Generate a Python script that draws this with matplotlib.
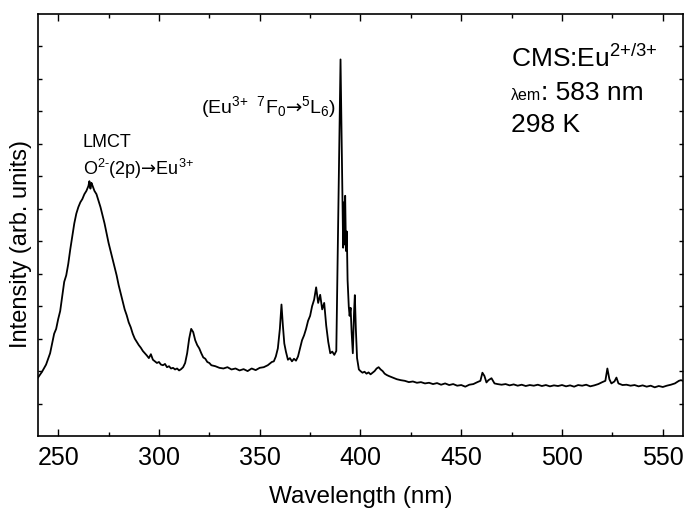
import matplotlib
matplotlib.use("Agg")
import matplotlib.pyplot as plt

plt.rcParams['font.family'] = ['Liberation Sans', 'DejaVu Sans']
plt.rcParams['mathtext.fontset'] = 'custom'
plt.rcParams['mathtext.rm'] = 'Liberation Sans'
plt.rcParams['mathtext.it'] = 'Liberation Sans:italic'
plt.rcParams['mathtext.bf'] = 'Liberation Sans:bold'
plt.rcParams['mathtext.sf'] = 'DejaVu Sans'

# excitation spectrum (wavelength nm, intensity arb.)
wavelength = [240, 242, 244, 246, 248, 249, 250, 251, 252, 253, 254, 255, 256, 257, 258, 259,
              260, 261, 262, 263, 264, 265, 265.5, 266, 266.5, 267, 268, 269, 270, 271, 272, 273,
              274, 275, 276, 277, 278, 279, 280, 281, 282, 283, 284, 285, 286, 287, 288, 289,
              290, 291, 292, 293, 294, 295, 296, 297, 298, 299, 300, 301, 302, 303, 304, 305,
              306, 307, 308, 309, 310, 311, 312, 313, 314, 315, 316, 317, 318, 319, 320, 321,
              322, 323, 324, 325, 326, 328, 330, 332, 334, 336, 338, 340, 342, 344, 346, 348,
              350, 352, 354, 356, 357, 358, 359, 360, 360.8, 361.5, 362.2, 363, 364, 365, 366, 367,
              368, 369, 370, 371, 372, 373, 374, 375, 376, 377, 378, 379, 380, 381, 382, 383,
              384, 385, 386, 387, 388, 390.1, 391.4, 391.8, 392.1, 392.4, 392.8, 393.2, 393.6, 394.2,
              394.6, 395.1, 395.6, 396.2, 396.8, 397.2, 397.7, 398.3, 399.2,
              400, 401, 402, 403, 404, 405, 406, 407, 408, 409, 410, 411, 412, 413, 414, 416,
              418, 420, 422, 424, 426, 428, 430, 432, 434, 436, 438, 440, 442, 444, 446, 448,
              450, 452, 454, 456, 458, 459.5, 460.5, 461.5, 462.5, 463.5, 465, 466.5, 468, 470, 472, 474,
              476, 478, 480, 482, 484, 486, 488, 490, 492, 494, 496, 498, 500, 502, 504, 506,
              508, 510, 512, 514, 516, 518, 520, 521.5, 522.5, 523.5, 524.5, 526, 527, 528, 530, 532,
              534, 536, 538, 540, 542, 544, 546, 548, 550, 552, 554, 556, 558, 559, 560]
intensity = [1.80, 1.98, 2.20, 2.55, 3.15, 3.30, 3.60, 3.85, 4.30, 4.75, 4.95, 5.30, 5.75, 6.15, 6.55, 6.85,
             7.05, 7.20, 7.30, 7.45, 7.55, 7.70, 7.85, 7.62, 7.80, 7.72, 7.55, 7.45, 7.25, 7.05, 6.80, 6.55,
             6.25, 5.95, 5.70, 5.45, 5.20, 4.95, 4.65, 4.40, 4.15, 3.90, 3.72, 3.50, 3.35, 3.15, 3.00, 2.90,
             2.80, 2.72, 2.62, 2.55, 2.48, 2.40, 2.52, 2.35, 2.30, 2.25, 2.28, 2.20, 2.18, 2.22, 2.12, 2.15,
             2.08, 2.10, 2.05, 2.08, 2.02, 2.06, 2.12, 2.25, 2.55, 3.00, 3.30, 3.20, 2.95, 2.80, 2.70, 2.55,
             2.42, 2.38, 2.28, 2.25, 2.18, 2.15, 2.10, 2.08, 2.12, 2.05, 2.08, 2.02, 2.06, 2.00, 2.08, 2.03,
             2.10, 2.12, 2.18, 2.28, 2.30, 2.45, 2.70, 3.30, 4.05, 3.40, 2.85, 2.60, 2.35, 2.40, 2.30, 2.38,
             2.32, 2.45, 2.70, 2.95, 3.10, 3.30, 3.55, 3.70, 4.00, 4.20, 4.58, 4.10, 4.35, 3.90, 4.10, 3.40,
             2.90, 2.55, 2.60, 2.50, 2.62, 11.60, 5.80, 7.20, 5.90, 7.40, 5.70, 6.30, 4.80, 3.98,
             3.70, 3.95, 3.20, 2.55, 3.80, 4.34, 3.30, 2.40, 2.05,
             2.00, 1.95, 1.98, 1.92, 1.96, 1.90, 1.95, 2.00, 2.08, 2.12, 2.05, 2.00, 1.92, 1.88, 1.85, 1.80,
             1.75, 1.72, 1.70, 1.66, 1.68, 1.64, 1.66, 1.62, 1.64, 1.60, 1.63, 1.58, 1.62, 1.57, 1.60, 1.55,
             1.57, 1.52, 1.58, 1.60, 1.66, 1.70, 1.95, 1.85, 1.65, 1.72, 1.78, 1.62, 1.60, 1.58, 1.60, 1.56,
             1.59, 1.55, 1.58, 1.54, 1.57, 1.55, 1.58, 1.54, 1.57, 1.53, 1.56, 1.54, 1.57, 1.53, 1.56, 1.52,
             1.57, 1.55, 1.58, 1.53, 1.56, 1.60, 1.66, 1.70, 2.08, 1.75, 1.62, 1.68, 1.80, 1.62, 1.57, 1.58,
             1.55, 1.57, 1.53, 1.56, 1.52, 1.55, 1.50, 1.54, 1.51, 1.55, 1.58, 1.62, 1.70, 1.72, 1.70]

x_ticks = [250, 300, 350, 400, 450, 500, 550]

fig = plt.figure(figsize=(6.85, 5.09), dpi=100)
ax = fig.add_axes([0.0555, 0.1434, 0.9415, 0.8291])

ax.plot(wavelength, intensity, color='black', linewidth=1.3)

ax.set_xlim(240, 560)
ax.set_ylim(0, 13)
ax.set_xticks(x_ticks)
ax.set_xticks(range(275, 560, 50), minor=True)
ax.set_yticks(range(1, 13))
ax.set_yticklabels([])
ax.tick_params(axis='x', which='major', direction='in', length=5, width=1, top=True, labelsize=18, pad=7)
ax.tick_params(axis='x', which='minor', direction='in', length=3, width=1, top=True)
ax.tick_params(axis='y', which='major', direction='in', length=3, width=1, right=True)
for s in ax.spines.values():
    s.set_linewidth(1.2)

ax.set_xlabel('Wavelength (nm)', fontsize=17.5, labelpad=12)
ax.set_ylabel('Intensity (arb. units)', fontsize=17)
ax.yaxis.set_label_coords(-0.01, 0.455)

arrow = '$\\mathsf{\u2192}$'
ax.text(262.2, 8.9, 'LMCT', fontsize=13, va='baseline')
ax.text(262.2, 8.04, r'O$^{\text{2-}}$(2p)' + arrow + r'Eu$^{\text{3+}}$', fontsize=13, va='baseline')
ax.text(321, 9.95, r'(Eu$^{\text{3+ }}$ $^{\text{7}}$F$_{0}$' + arrow + r'$^{5}$L$_{6}$)',
        fontsize=14, va='baseline')

ax.text(474.8, 11.37, r'CMS:Eu$^{\text{2+/3+}}$', fontsize=19, va='baseline')
t_lam = ax.text(474.8, 10.35, '\u03bbem', fontsize=11.5, va='baseline')
fig.canvas.draw()
bb = t_lam.get_window_extent()
x_end = ax.transData.inverted().transform((bb.x1, bb.y0))[0]
ax.text(x_end, 10.35, ': 583 nm', fontsize=19, va='baseline')
ax.text(474.8, 9.37, '298 K', fontsize=19, va='baseline')

plt.savefig('out.png', dpi=100)
